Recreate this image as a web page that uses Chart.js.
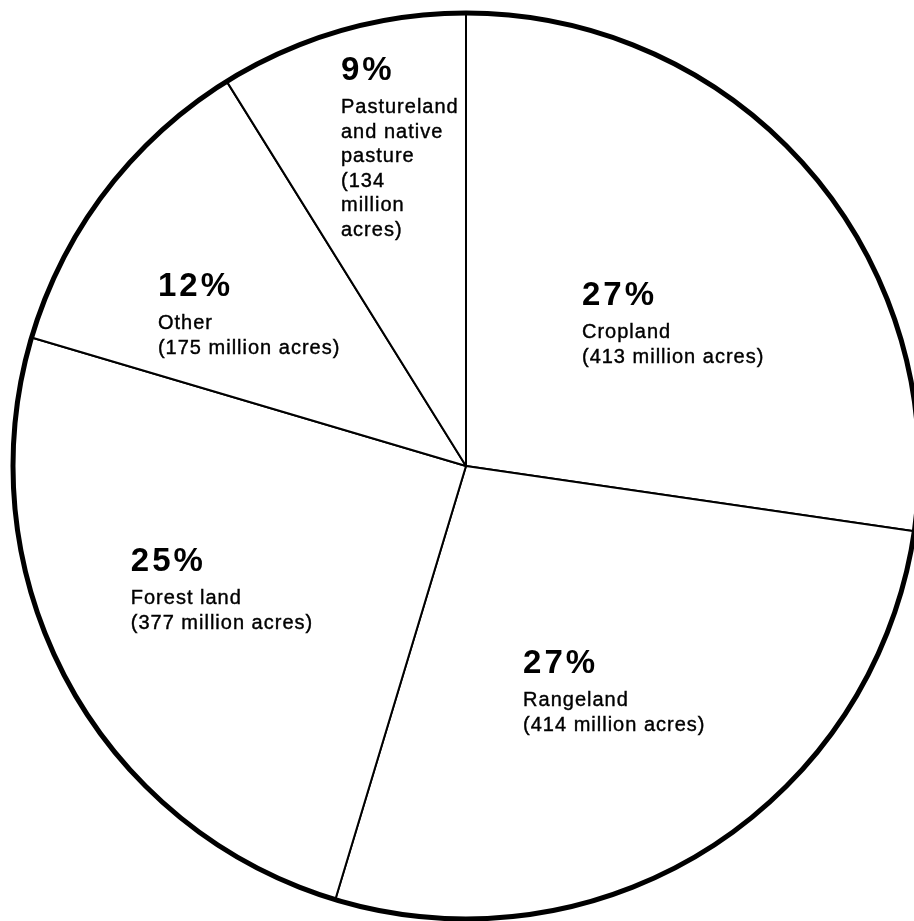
<!DOCTYPE html>
<html>
<head>
<meta charset="utf-8">
<script src="https://cdn.jsdelivr.net/npm/chart.js@4/dist/chart.umd.min.js"></script>
<style>
  html, body { margin: 0; padding: 0; background: #fff; overflow: hidden; }
  #wrap { position: absolute; left: 0; top: 0; width: 932px; height: 932px; }
</style>
</head>
<body>
<div id="wrap"><canvas id="landChart"></canvas></div>
<script>
        // land use, million acres (clockwise from the top)
        const categories = ['Cropland', 'Rangeland', 'Forest land', 'Other', 'Pastureland and native pasture'];
        const acres = [413, 414, 377, 175, 134];
        const labelLines = [
            ['Cropland', '(413 million acres)'],
            ['Rangeland', '(414 million acres)'],
            ['Forest land', '(377 million acres)'],
            ['Other', '(175 million acres)'],
            ['Pastureland', 'and native', 'pasture', '(134', 'million', 'acres)']
        ];

        // where each text block sits, in units of the pie radius from its centre
        const labelAnchors = [
            [0.256, -0.355],
            [0.126, 0.457],
            [-0.740, 0.232],
            [-0.680, -0.375],
            [-0.276, -0.852]
        ];

        const total = acres.reduce((sum, v) => sum + v, 0);

        const pieLabels = {
            id: 'pieLabels',
            afterDatasetsDraw(chart) {
                const ctx = chart.ctx;
                const arcs = chart.getDatasetMeta(0).data;
                const cx = arcs[0].x, cy = arcs[0].y, r = arcs[0].outerRadius;

                // heavy outer rim
                ctx.save();
                ctx.beginPath();
                ctx.arc(cx, cy, r, 0, Math.PI * 2);
                ctx.lineWidth = 5;
                ctx.strokeStyle = '#000';
                ctx.stroke();

                ctx.fillStyle = '#000';
                ctx.textAlign = 'left';
                ctx.textBaseline = 'alphabetic';
                acres.forEach((v, i) => {
                    const x = cx + labelAnchors[i][0] * r;
                    const y = cy + labelAnchors[i][1] * r;
                    ctx.font = 'bold 33px "Liberation Sans", Arial, sans-serif';
                    ctx.letterSpacing = '3px';
                    ctx.fillText(Math.round(v / total * 100) + '%', x, y);
                    ctx.font = '20px "Liberation Sans", Arial, sans-serif';
                    ctx.letterSpacing = '1px';
                    ctx.lineWidth = 0.4;
                    labelLines[i].forEach((line, j) => {
                        ctx.fillText(line, x, y + 33 + j * 24.5);
                        ctx.strokeText(line, x, y + 33 + j * 24.5);
                    });
                });
                ctx.restore();
            }
        };

        new Chart(document.getElementById('landChart'), {
            type: 'pie',
            data: {
                labels: categories,
                datasets: [{
                    data: acres,
                    backgroundColor: '#fff',
                    borderColor: '#000',
                    borderWidth: 2
                }]
            },
            options: {
                responsive: true,
                maintainAspectRatio: false,
                animation: false,
                layout: { padding: 12 },
                plugins: {
                    legend: { display: false },
                    tooltip: { enabled: false }
                }
            },
            plugins: [pieLabels]
        });
</script>
</body>
</html>
